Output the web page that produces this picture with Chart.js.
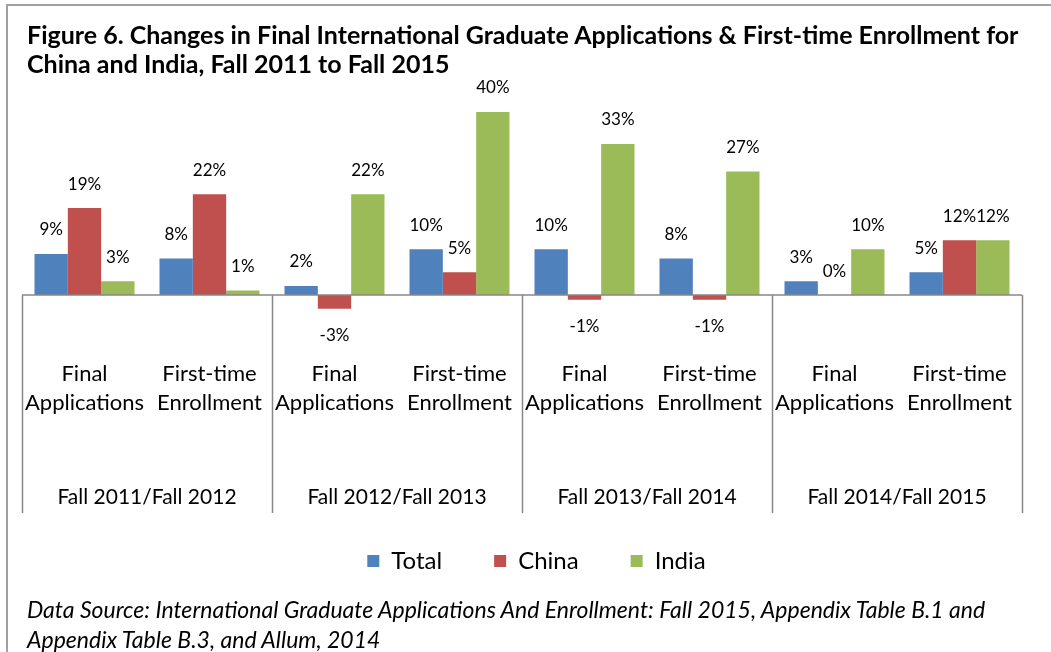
<!DOCTYPE html>
<html>
<head>
<meta charset="utf-8">
<script src="https://cdn.jsdelivr.net/npm/chart.js@4.4.1/dist/chart.umd.min.js"></script>
<style>
  html, body { margin: 0; padding: 0; background: #fff; overflow: hidden; }
  #wrap { position: relative; width: 1051px; height: 652px; }
  #frame { position: absolute; left: 6px; top: 4px; width: 1100px; height: 700px;
           border-left: 2px solid #a0a0a0; border-top: 2px solid #a0a0a0; }
  #title { position: absolute; left: 27px; top: 20px; font: bold 25px Lato, sans-serif;
           line-height: 29px; color: #000; white-space: nowrap; }
  #note { position: absolute; left: 27px; top: 594px; font: italic 23px Lato, sans-serif;
          line-height: 30px; color: #000; white-space: nowrap; }
  canvas { position: absolute; left: 0; top: 0; }
</style>
</head>
<body>
<div id="wrap">
  <div id="frame"></div>
  <canvas id="c" width="1051" height="652"></canvas>
  <div id="title">Figure 6. Changes in Final International Graduate Applications &amp; First-time Enrollment for<br>China and India, Fall 2011 to Fall 2015</div>
  <div id="note">Data Source: International Graduate Applications And Enrollment: Fall 2015, Appendix Table B.1 and<br>Appendix Table B.3, and Allum, 2014</div>
</div>
<script>
const categories = [
  ['Final', 'Applications'], ['First-time', 'Enrollment'],
  ['Final', 'Applications'], ['First-time', 'Enrollment'],
  ['Final', 'Applications'], ['First-time', 'Enrollment'],
  ['Final', 'Applications'], ['First-time', 'Enrollment']
];
const groups = ['Fall 2011/Fall 2012', 'Fall 2012/Fall 2013', 'Fall 2013/Fall 2014', 'Fall 2014/Fall 2015'];
const totalValues = [9, 8, 2, 10, 10, 8, 3, 5];
const chinaValues = [19, 22, -3, 5, -1, -1, 0, 12];
const indiaValues = [3, 1, 22, 40, 33, 27, 10, 12];

const FONT = 'Lato, sans-serif';

const decorPlugin = {
  id: 'decor',
  afterDatasetsDraw(chart) {
    const ctx = chart.ctx;
    const x = chart.scales.x, y = chart.scales.y;
    const area = chart.chartArea;
    const y0 = y.getPixelForValue(0);
    const sepBottom = 513;
    ctx.save();
    // axis line
    ctx.strokeStyle = '#878787';
    ctx.lineWidth = 1.5;
    ctx.beginPath();
    ctx.moveTo(area.left, y0);
    ctx.lineTo(area.right, y0);
    ctx.stroke();
    // group separators
    const perGroup = categories.length / groups.length;
    const catW = (area.right - area.left) / categories.length;
    for (let g = 0; g <= groups.length; g++) {
      const px = g < groups.length
        ? x.getPixelForValue(g * perGroup) - catW / 2
        : x.getPixelForValue(categories.length - 1) + catW / 2;
      ctx.beginPath();
      ctx.moveTo(Math.round(px) + 0.5, y0);
      ctx.lineTo(Math.round(px) + 0.5, sepBottom);
      ctx.stroke();
    }
    // group labels
    ctx.fillStyle = '#000';
    ctx.font = '21px ' + FONT;
    ctx.textAlign = 'center';
    ctx.textBaseline = 'middle';
    groups.forEach((label, g) => {
      const a = x.getPixelForValue(g * perGroup);
      const b = x.getPixelForValue(g * perGroup + perGroup - 1);
      ctx.fillText(label, (a + b) / 2, 497);
    });
    // value labels
    ctx.font = '17px ' + FONT;
    chart.data.datasets.forEach((ds, di) => {
      const meta = chart.getDatasetMeta(di);
      meta.data.forEach((bar, i) => {
        const v = ds.data[i];
        const ty = v >= 0 ? bar.y - 24 : bar.y + 27;
        ctx.fillText(v + '%', bar.x, ty);
      });
    });
    ctx.restore();
  }
};

new Chart(document.getElementById('c'), {
  type: 'bar',
  data: {
    labels: categories,
    datasets: [
      { label: 'Total', data: totalValues, backgroundColor: '#4F81BD' },
      { label: 'China', data: chinaValues, backgroundColor: '#C0504D' },
      { label: 'India', data: indiaValues, backgroundColor: '#9BBB59' }
    ]
  },
  options: {
    responsive: false,
    animation: false,
    devicePixelRatio: 1,
    layout: { padding: { left: 22, right: 0, top: 89, bottom: 69 } },
    datasets: { bar: { categoryPercentage: 0.8, barPercentage: 1.0, borderWidth: 0 } },
    scales: {
      x: {
        grid: { display: false, drawTicks: true, tickLength: 41 },
        border: { display: false },
        ticks: { color: '#000', font: { family: FONT, size: 22, lineHeight: '29px' }, padding: 0, maxRotation: 0, autoSkip: false },
        afterFit(scale) { scale.height = 179; }
      },
      y: {
        position: 'right',
        min: -5, max: 45,
        grid: { display: false },
        border: { display: false },
        ticks: { display: false },
        afterFit(scale) { scale.width = 29; }
      }
    },
    plugins: {
      legend: {
        position: 'bottom',
        labels: { color: '#000', font: { family: FONT, size: 24 }, boxWidth: 12, boxHeight: 12, padding: 52 }
      },
      tooltip: { enabled: false },
      title: { display: false }
    }
  },
  plugins: [decorPlugin]
});
</script>
</body>
</html>
